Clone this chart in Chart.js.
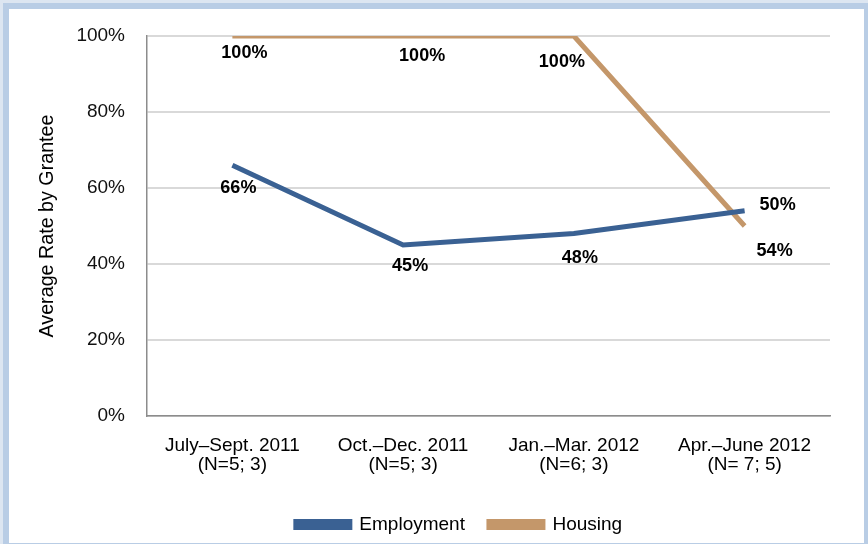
<!DOCTYPE html>
<html>
<head>
<meta charset="utf-8">
<script src="https://cdn.jsdelivr.net/npm/chart.js@4.4.1/dist/chart.umd.min.js"></script>
<style>
  html, body { margin: 0; padding: 0; }
  body { width: 868px; height: 544px; background: #dde6f1; position: relative; overflow: hidden; }
  #frame {
    position: absolute; left: 3px; top: 3px;
    width: 855px; height: 534px;
    border: 6px solid #b9cde5; background: #ffffff;
  }
  #wrap { position: absolute; left: 0; top: 0; width: 868px; height: 544px; }
</style>
</head>
<body>
<div id="frame"></div>
<div id="wrap"><canvas id="rateChart" width="868" height="544"></canvas></div>
<script>
// chart data
const categories = [
    ['July–Sept. 2011', '(N=5; 3)'],
    ['Oct.–Dec. 2011', '(N=5; 3)'],
    ['Jan.–Mar. 2012', '(N=6; 3)'],
    ['Apr.–June 2012', '(N= 7; 5)']
];
const employment = [66, 45, 48, 54];
const housing = [100, 100, 100, 50];
const yTicks = [0, 20, 40, 60, 80, 100];

const font = "'Liberation Sans', Arial, sans-serif";

// where each value label sits relative to its point (dx, dy in px)
const labelOffsets = [
    [[6, 23], [7, 21], [6, 24], [30, 40]],     // Employment
    [[12, 17], [19, 20], [-12, 26], [33, -21]] // Housing
];

const valueLabels = {
    id: 'valueLabels',
    afterDatasetsDraw(chart) {
        const ctx = chart.ctx;
        ctx.save();
        ctx.font = 'bold 18px ' + font;
        ctx.fillStyle = '#000';
        ctx.textAlign = 'center';
        ctx.textBaseline = 'middle';
        chart.data.datasets.forEach((ds, i) => {
            chart.getDatasetMeta(i).data.forEach((pt, j) => {
                const off = labelOffsets[i][j];
                ctx.fillText(ds.data[j] + '%', pt.x + off[0], pt.y + off[1]);
            });
        });
        ctx.restore();
    }
};

// the legend in the original sits a bit right of centre
const legendShift = {
    id: 'legendShift',
    afterLayout(chart) {
        chart.legend.left += 28;
        chart.legend.right += 28;
    }
};

const ctx = document.getElementById('rateChart').getContext('2d');
const rateChart = new Chart(ctx, {
    type: 'line',
    data: {
        labels: categories,
        datasets: [{
            label: 'Employment',
            data: employment,
            borderColor: '#3a6193',
            backgroundColor: '#3a6193',
            borderWidth: 5,
            pointRadius: 0,
            tension: 0
        }, {
            label: 'Housing',
            data: housing,
            borderColor: '#c4976a',
            backgroundColor: '#c4976a',
            borderWidth: 5,
            pointRadius: 0,
            tension: 0
        }]
    },
    options: {
        responsive: false,
        animation: false,
        layout: { padding: { left: 32, top: 36, right: 38, bottom: 0 } },
        scales: {
            x: {
                offset: true,
                grid: { display: false, drawTicks: false },
                border: { display: true, color: '#8c8c8c', width: 1.5 },
                ticks: {
                    color: '#000',
                    padding: 20,
                    maxRotation: 0,
                    font: { family: font, size: 19, lineHeight: '19px' }
                },
                afterFit(scale) { scale.height = 75; }
            },
            y: {
                min: 0,
                max: 100,
                grid: { color: '#d9d9d9', lineWidth: 2, drawTicks: false },
                border: { display: true, color: '#8c8c8c', width: 1.5 },
                afterBuildTicks(scale) { scale.ticks = yTicks.map(v => ({ value: v })); },
                ticks: {
                    color: '#111',
                    padding: 22,
                    font: { family: font, size: 19 },
                    callback: v => v + '%'
                },
                title: {
                    display: true,
                    text: 'Average Rate by Grantee',
                    color: '#000',
                    padding: { top: 4, bottom: 0 },
                    font: { family: font, size: 19.7 }
                },
                afterFit(scale) { scale.width = 115; }
            }
        },
        plugins: {
            legend: {
                position: 'bottom',
                labels: {
                    color: '#000',
                    boxWidth: 54,
                    boxHeight: 6,
                    padding: 24,
                    font: { family: font, size: 19 }
                }
            },
            tooltip: { enabled: false }
        }
    },
    plugins: [valueLabels, legendShift]
});
</script>
</body>
</html>
